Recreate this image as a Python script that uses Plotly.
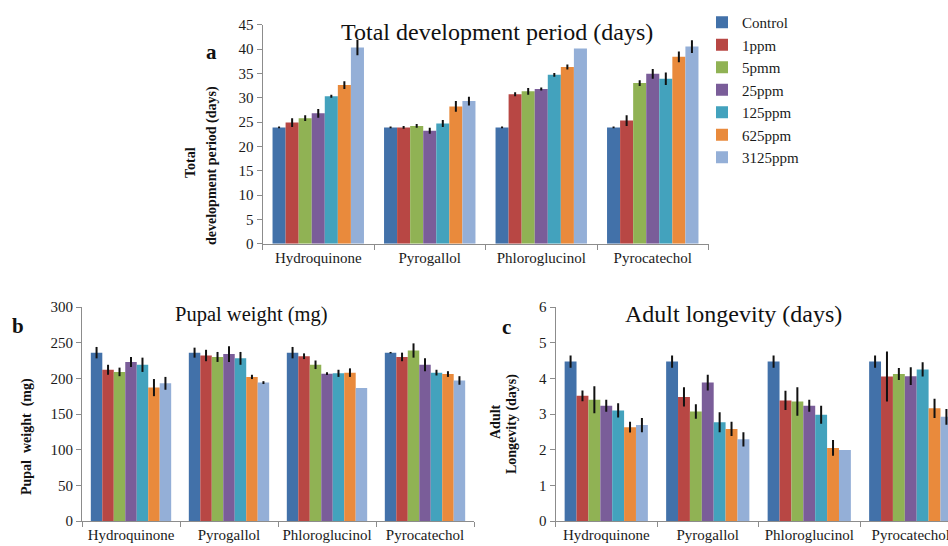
import plotly.graph_objects as go

W, H = 948, 546

categories = ["Hydroquinone", "Pyrogallol", "Phloroglucinol", "Pyrocatechol"]
series_names = ["Control", "1ppm", "5pmm", "25ppm", "125ppm", "625ppm", "3125ppm"]
colors = ["#4271A9", "#B84744", "#90B254", "#7A5D99", "#43A2BD", "#E98A3C", "#94AFD7"]

# Panel a: Total development period (days), rows = series, columns = categories
dev_period = [
    [23.9, 23.9, 23.9, 23.9],
    [24.9, 23.9, 30.7, 25.3],
    [25.8, 24.2, 31.3, 33.0],
    [26.8, 23.2, 31.8, 34.9],
    [30.3, 24.7, 34.7, 33.9],
    [32.6, 28.2, 36.3, 38.4],
    [40.3, 29.3, 40.1, 40.5],
]
dev_period_err = [
    [0.2, 0.2, 0.2, 0.2],
    [0.9, 0.3, 0.4, 1.1],
    [0.6, 0.4, 0.7, 0.6],
    [0.9, 0.6, 0.3, 1.0],
    [0.3, 0.7, 0.4, 1.3],
    [0.8, 1.1, 0.5, 1.1],
    [1.6, 0.9, 0.0, 1.3],
]

# Panel b: Pupal weight (mg)
pupal_weight = [
    [236, 236, 236, 236],
    [212, 232, 231, 230],
    [209, 230, 219, 239],
    [223, 234, 206.5, 219],
    [219, 228, 207, 208],
    [187, 202, 208, 206],
    [193, 194, 186.5, 197],
]
pupal_weight_err = [
    [8, 7, 8, 1],
    [7, 8, 4, 6],
    [6, 7, 6, 10],
    [7, 11, 2, 9],
    [10, 9, 5, 4],
    [12, 3, 6, 4],
    [9, 2, 0, 6],
]

# Panel c: Adult longevity (days)
longevity = [
    [4.47, 4.47, 4.47, 4.47],
    [3.51, 3.48, 3.38, 4.05],
    [3.40, 3.07, 3.35, 4.12],
    [3.23, 3.88, 3.23, 4.06],
    [3.10, 2.77, 2.98, 4.25],
    [2.63, 2.58, 2.05, 3.16],
    [2.69, 2.29, 1.99, 2.92],
]
longevity_err = [
    [0.17, 0.17, 0.17, 0.17],
    [0.15, 0.27, 0.27, 0.70],
    [0.38, 0.20, 0.40, 0.17],
    [0.17, 0.22, 0.17, 0.25],
    [0.20, 0.28, 0.25, 0.20],
    [0.15, 0.20, 0.22, 0.27],
    [0.20, 0.20, 0.00, 0.22],
]

FONT = "Liberation Serif"

fig = go.Figure()

panels = [
    (dev_period, dev_period_err, "x", "y", True),
    (pupal_weight, pupal_weight_err, "x2", "y2", False),
    (longevity, longevity_err, "x3", "y3", False),
]
for vals, errs, xa, ya, show in panels:
    for i, name in enumerate(series_names):
        fig.add_trace(go.Bar(
            x=categories, y=vals[i], name=name,
            marker=dict(color=colors[i], line=dict(width=0)),
            error_y=dict(type="data", array=errs[i], color="#111111",
                         thickness=2, width=0),
            xaxis=xa, yaxis=ya, showlegend=show, legendgroup=name,
        ))


def px_x(p):
    return p / W


def px_y(p):
    return 1 - p / H


axis_common = dict(
    showgrid=False, zeroline=False, showline=True, linecolor="#8C8C8C",
    linewidth=1, ticks="outside", tickcolor="#8C8C8C", ticklen=5,
    tickfont=dict(family=FONT, size=15, color="#1a1a1a"), fixedrange=True,
    automargin=False,
)

fig.update_layout(
    width=W, height=H,
    margin=dict(l=0, r=0, t=0, b=0, pad=0),
    paper_bgcolor="white", plot_bgcolor="white",
    barmode="group", bargap=0.18, bargroupgap=0,
    font=dict(family=FONT, color="#1a1a1a"),
    xaxis=dict(domain=[px_x(262.5), px_x(708.5)], anchor="y", type="category",
               tickson="boundaries", range=[-0.5, 3.5], tickangle=0, **axis_common),
    yaxis=dict(domain=[px_y(243.7), px_y(24.7)], anchor="x", range=[0, 45],
               dtick=5, **axis_common),
    xaxis2=dict(domain=[px_x(82), px_x(474)], anchor="y2", type="category",
                tickson="boundaries", range=[-0.5, 3.5], tickangle=0, **axis_common),
    yaxis2=dict(domain=[px_y(521), px_y(307)], anchor="x2", range=[0, 300],
                dtick=50, **axis_common),
    xaxis3=dict(domain=[px_x(555.5), 1.0], anchor="y3", type="category",
                tickson="boundaries", range=[-0.5, -0.5 + (W - 555.5) / 101.5],
                tickangle=0, **axis_common),
    yaxis3=dict(domain=[px_y(521), px_y(307)], anchor="x3", range=[0, 6],
                dtick=1, **axis_common),
    legend=dict(x=px_x(702), y=px_y(6), xanchor="left", yanchor="top",
                font=dict(family=FONT, size=15, color="#1a1a1a"),
                bgcolor="rgba(0,0,0,0)", traceorder="normal",
                tracegroupgap=0),
)

annots = [
    # titles
    dict(text="Total development period (days)", x=497, y=32, size=24),
    dict(text="Pupal weight (mg)", x=252, y=314, size=20.5),
    dict(text="Adult longevity (days)", x=733, y=314, size=24),
    # panel letters
    dict(text="<b>a</b>", x=211, y=52, size=21),
    dict(text="<b>b</b>", x=18, y=326, size=21),
    dict(text="<b>c</b>", x=507, y=327, size=21),
]
for a in annots:
    fig.add_annotation(text=a["text"], xref="paper", yref="paper",
                       x=px_x(a["x"]), y=px_y(a["y"]), xanchor="center",
                       yanchor="middle", showarrow=False,
                       font=dict(family=FONT, size=a["size"], color="#111111"))

ytitles = [
    ("<b>Total</b>", 190, 163),
    ("<b>development period (days)</b>", 212, 166),
    ("<b>Pupal  weight  (mg)</b>", 27, 437),
    ("<b>Adult</b>", 495, 422),
    ("<b>Longevity (days)</b>", 512, 424),
]
for t, x, y in ytitles:
    fig.add_annotation(text=t, xref="paper", yref="paper", x=px_x(x), y=px_y(y),
                       xanchor="center", yanchor="middle", showarrow=False,
                       textangle=-90,
                       font=dict(family=FONT, size=14, color="#111111"))

fig.write_html(
    "out.html",
    config={"displayModeBar": False},
    post_script="document.body.style.margin='0';document.body.style.overflow='hidden';",
)
